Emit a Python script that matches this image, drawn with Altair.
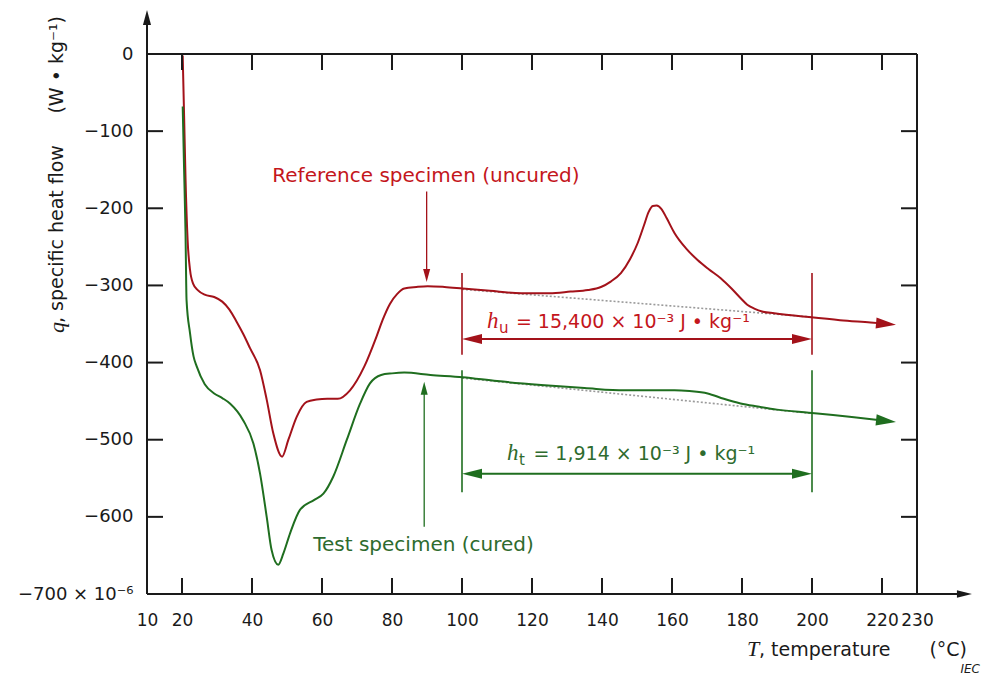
import altair as alt
import pandas as pd

# ---------------- data ----------------
red_T = [20.2, 20.6, 21.0, 21.6, 22.3, 23.2, 24.5, 26.5, 29.2, 31.5, 33.5, 35.6, 37.5, 39.4,
         42.3, 44.2, 46.1, 48.6, 50.4, 52.8, 55.6, 58.5, 61.5, 64.5, 68.0, 72.1, 75.6, 77.3,
         79.4, 81.5, 83.5, 87.0, 90.2, 95.0, 100.2, 108.0, 116.9, 125.0, 131.0, 136.0, 139.7,
         142.5, 145.4, 148.0, 150.2, 152.0, 153.3, 154.5, 155.6, 157.0, 158.5, 160.7, 164.0,
         167.3, 170.5, 174.0, 177.0, 179.7, 181.5, 183.5, 186.0, 189.2, 199.1, 208.0, 216.7, 222.0]
red_q = [-2, -80, -160, -241, -280, -298, -306, -312, -315, -321, -331, -347, -363, -381,
         -410, -448, -492, -522, -500, -470, -451, -448, -447, -447, -436, -405, -366, -345,
         -324, -311, -304, -302, -301, -302, -304, -307, -310, -310, -308, -306, -302,
         -295, -284, -266, -245, -222, -205, -197, -196.5, -201, -213, -232, -252,
         -267, -279, -291, -304, -317, -325, -330, -334, -336, -341, -345, -348, -350]

green_T = [20.2, 20.6, 21.0, 21.3, 22.3, 23.3, 24.2, 26.5, 29.2, 31.5, 33.7, 37.5, 40.4, 42.3,
           44.2, 45.6, 47.5, 49.0, 50.9, 53.7, 57.8, 60.4, 63.2, 67.1, 70.9, 73.7, 76.9, 80.0,
           83.5, 91.0, 100.2, 110.0, 122.6, 135.0, 146.4, 155.0, 160.7, 165.0, 170.2, 174.8,
           179.6, 184.5, 190.0, 199.1, 206.0, 212.0, 222.0]
green_q = [-68, -150, -230, -319, -362, -392, -405, -428, -440, -446, -453, -475, -505, -544,
           -600, -643, -662, -647, -621, -591, -578, -570, -548, -500, -453, -427, -416, -414,
           -413, -416, -419, -424, -429, -433, -436, -436, -436, -437, -440, -447,
           -453, -457, -461, -465, -468, -471, -476]

# dotted baselines (start / end)
red_base_T = [100, 200]
red_base_q = [-305, -341]
green_base_T = [100, 200]
green_base_q = [-420, -466]

x_label_values = [10, 20, 40, 60, 80, 100, 120, 140, 160, 180, 200, 220, 230]
x_inner_ticks = [20, 40, 60, 80, 100, 120, 140, 160, 180, 200, 220]
y_label_values = [0, -100, -200, -300, -400, -500, -600, -700]
y_inner_ticks = [-100, -200, -300, -400, -500, -600]

RED_LINE = "#a3121a"
RED_TEXT = "#c4161c"
GREEN_LINE = "#1f6e1f"
GREEN_TEXT = "#2e6b2e"
INK = "#1a1a1a"
SANS = "DejaVu Sans"
SERIF = "Liberation Serif"

XS = alt.Scale(domain=[10, 230], nice=False, zero=False)
YS = alt.Scale(domain=[-700, 0], nice=False, zero=False)

X_AXIS = alt.Axis(values=x_label_values, ticks=False, tickSize=0, domain=False, grid=False,
                  title=None, labelFont=SANS, labelFontSize=17, labelColor=INK,
                  labelPadding=18, labelFlush=False,
                  labelExpr="(datum.value == 220 || datum.value == 230) ? datum.label + '\u00a0' : datum.label")
Y_AXIS = alt.Axis(values=y_label_values, ticks=False, tickSize=0, domain=False, grid=False,
                  title=None, labelFont=SANS, labelFontSize=18, labelColor=INK,
                  labelPadding=14,
                  labelExpr="datum.value == -700 ? '\u2212700 \u00d7 10\u207b\u2076' : replace(format(datum.value, 'd'), '-', '\u2212')")

ARROW_R = "M0,0L-1,-0.28L-1,0.28Z"
ARROW_R2 = "M0,0L-1,-0.25L-1,0.25Z"
ARROW_L = "M0,0L1,-0.25L1,0.25Z"
ARROW_D = "M0,0L-0.27,-1L0.27,-1Z"
ARROW_U = "M0,0L-0.27,1L0.27,1Z"


def xy(**kw):
    return dict(x=alt.X("x:Q", scale=XS, axis=X_AXIS), y=alt.Y("y:Q", scale=YS, axis=Y_AXIS), **kw)


# ---------------- curves ----------------
red_df = pd.DataFrame({"x": red_T, "y": red_q, "i": range(len(red_T))})
green_df = pd.DataFrame({"x": green_T, "y": green_q, "i": range(len(green_T))})

red_line = alt.Chart(red_df).mark_line(color=RED_LINE, strokeWidth=2, interpolate="monotone").encode(
    **xy(order="i:Q"))
green_line = alt.Chart(green_df).mark_line(color=GREEN_LINE, strokeWidth=2, interpolate="monotone").encode(
    **xy(order="i:Q"))

base_df = pd.DataFrame({"x": [red_base_T[0], green_base_T[0]], "y": [red_base_q[0], green_base_q[0]],
                        "x2": [red_base_T[1], green_base_T[1]], "y2": [red_base_q[1], green_base_q[1]]})
baselines = alt.Chart(base_df).mark_rule(color="#9a9a9a", strokeWidth=1.6, strokeDash=[2, 2]).encode(
    **xy(x2="x2:Q", y2="y2:Q"))

# ---------------- frame & axis lines ----------------
frame_df = pd.DataFrame({
    "x":  [10, 10, 10, 230],
    "y":  [-700, -700, 0, -700],
    "x2": [10, 242, 230, 230],
    "y2": [50, -700, 0, 0],
})
frame = alt.Chart(frame_df).mark_rule(color=INK, strokeWidth=2).encode(**xy(x2="x2:Q", y2="y2:Q"))

# inward ticks (half of each tick is clipped away by the plot area)
xt_df = pd.DataFrame({"x": x_inner_ticks * 2, "y": [-700] * len(x_inner_ticks) + [0] * len(x_inner_ticks)})
yt_df = pd.DataFrame({"y": y_inner_ticks * 2, "x": [10] * len(y_inner_ticks) + [230] * len(y_inner_ticks)})
xticks = alt.Chart(xt_df).mark_tick(orient="vertical", size=32, thickness=2, color=INK, clip=True,
                                    opacity=1).encode(**xy())
yticks = alt.Chart(yt_df).mark_tick(orient="horizontal", size=32, thickness=2, color=INK, clip=True,
                                    opacity=1).encode(**xy())

# ---------------- brackets ----------------
vbar_df = pd.DataFrame({
    "x": [100, 200, 100, 200], "y": [-284, -284, -410, -410],
    "y2": [-390, -390, -568, -568], "c": ["r", "r", "g", "g"]})
vbars_red = alt.Chart(vbar_df[vbar_df.c == "r"]).mark_rule(color=RED_LINE, strokeWidth=1.6).encode(
    **xy(y2="y2:Q"))
vbars_green = alt.Chart(vbar_df[vbar_df.c == "g"]).mark_rule(color=GREEN_LINE, strokeWidth=1.6).encode(
    **xy(y2="y2:Q"))

hbar_df = pd.DataFrame({"x": [103, 103], "x2": [197, 197], "y": [-369.4, -544], "c": ["r", "g"]})
hbar_red = alt.Chart(hbar_df[hbar_df.c == "r"]).mark_rule(color=RED_LINE, strokeWidth=2).encode(
    **xy(x2="x2:Q"))
hbar_green = alt.Chart(hbar_df[hbar_df.c == "g"]).mark_rule(color=GREEN_LINE, strokeWidth=2).encode(
    **xy(x2="x2:Q"))


def head(x, y, shape, size, color, angle=0):
    return alt.Chart(pd.DataFrame({"x": [x], "y": [y]})).mark_point(
        shape=shape, filled=True, size=size, color=color, opacity=1, strokeWidth=0,
        angle=angle).encode(**xy())


heads = [
    head(10, 57, ARROW_U, 900, INK),
    head(245.7, -700, ARROW_R2, 900, INK),
    head(100, -369.4, ARROW_L, 1600, RED_LINE),
    head(200, -369.4, ARROW_R2, 1600, RED_LINE),
    head(100, -544, ARROW_L, 1600, GREEN_LINE),
    head(200, -544, ARROW_R2, 1600, GREEN_LINE),
    head(224, -351, ARROW_R, 1600, RED_LINE, 5),
    head(224, -477, ARROW_R, 1600, GREEN_LINE, 6),
    head(89.9, -295.6, ARROW_D, 676, RED_LINE),
    head(89.2, -424.8, ARROW_U, 676, GREEN_LINE),
]

ann_df = pd.DataFrame({"x": [89.9, 89.2], "y": [-178.4, -612.8], "y2": [-285, -435]})
ann_red = alt.Chart(ann_df.iloc[[0]]).mark_rule(color=RED_LINE, strokeWidth=1.3).encode(**xy(y2="y2:Q"))
ann_green = alt.Chart(ann_df.iloc[[1]]).mark_rule(color=GREEN_LINE, strokeWidth=1.3).encode(**xy(y2="y2:Q"))


# ---------------- texts ----------------
def txt(x, y, s, font=SANS, size=20, color=INK, align="left", baseline="alphabetic",
        style="normal", angle=0):
    return alt.Chart(pd.DataFrame({"x": [x], "y": [y], "t": [s]})).mark_text(
        font=font, fontSize=size, color=color, align=align, baseline=baseline,
        fontStyle=style, angle=angle).encode(**xy(text="t:N"))


texts = [
    txt(89.7, -165.9, "Reference specimen (uncured)", color=RED_TEXT, align="center"),
    txt(89.0, -644.3, "Test specimen (cured)", color=GREEN_TEXT, align="center"),
    # h_u formula
    txt(107.14, -355.2, "h", font=SERIF, size=23, color=RED_TEXT, style="italic"),
    txt(110.57, -361.7, "u", size=15, color=RED_TEXT),
    txt(115.4, -355.2, "= 15,400 \u00d7 10\u207b\u00b3 J \u2022 kg\u207b\u00b9", size=19, color=RED_TEXT),
    # h_t formula
    txt(112.86, -526.9, "h", font=SERIF, size=23, color=GREEN_TEXT, style="italic"),
    txt(116.29, -533.4, "t", size=15, color=GREEN_TEXT),
    txt(120.4, -526.9, "= 1,914 \u00d7 10\u207b\u00b3 J \u2022 kg\u207b\u00b9", size=19, color=GREEN_TEXT),
    # x title
    txt(181.43, -780.4, "T", font=SERIF, size=22, style="italic"),
    txt(184.86, -780.4, ", temperature", size=19),
    txt(244.29, -780.4, "(\u00b0C)", size=19, align="right"),
    # y title (rotated)
    txt(-15.7, -361.7, "q", font=SERIF, size=22, style="italic", baseline="middle", angle=270),
    txt(-15.7, -348.7, ", specific heat flow", size=19, baseline="middle", angle=270),
    txt(-15.7, 49.3, "(W \u2022 kg\u207b\u00b9)", size=19, align="right", baseline="middle", angle=270),
    # IEC mark
    txt(248.0, -802.4, "IEC", size=12, style="italic", align="right"),
]

chart = alt.layer(
    baselines, red_line, green_line, frame, xticks, yticks,
    vbars_red, vbars_green, hbar_red, hbar_green, ann_red, ann_green, *heads, *texts
).properties(
    width=770, height=540,
    padding={"left": 139, "top": 46, "right": 67, "bottom": 82},
    autosize=alt.AutoSizeParams(type="none"),
    background="white",
).configure_view(stroke=None).configure(font=SANS)

chart.save("out.html", embed_options={"renderer": "svg", "actions": False})
